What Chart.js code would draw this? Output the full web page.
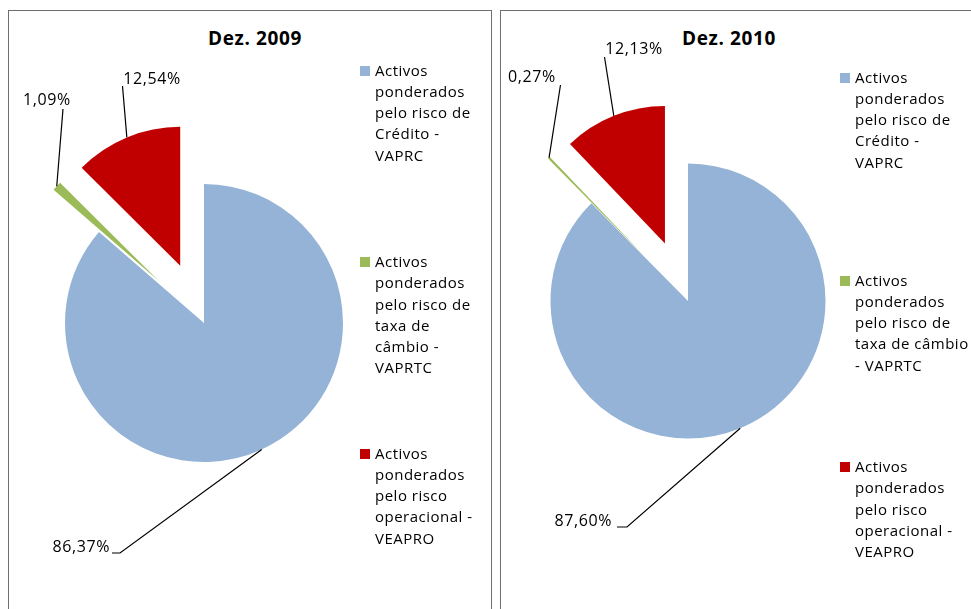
<!DOCTYPE html>
<html>
<head>
<meta charset="utf-8">
<script src="https://cdn.jsdelivr.net/npm/chart.js@4.4.1/dist/chart.umd.min.js"></script>
<style>
  html, body { margin:0; padding:0; background:#fff; width:971px; height:609px; overflow:hidden; }
  body { position:relative; font-family:"Open Sans", sans-serif; color:#000; }
  .panel { position:absolute; top:10px; height:700px; border:1px solid #6e6e6e; box-sizing:border-box; }
  .title { position:absolute; font-weight:bold; font-size:19px; letter-spacing:0.6px; white-space:nowrap; transform:translate(-50%,-50%); }
  canvas { position:absolute; }
  .leg-item { position:absolute; font-size:15px; line-height:21.3px; letter-spacing:0.5px; }
  .leg-box { position:absolute; width:10px; height:10px; }
</style>
</head>
<body>
<div class="panel" style="left:8px; width:484px;"></div>
<div class="panel" style="left:500px; width:600px;"></div>
<div class="title" style="left:255px; top:38px;">Dez. 2009</div>
<div class="title" style="left:729px; top:38px;">Dez. 2010</div>
<canvas id="pie2009" width="384" height="622" style="left:12px; top:12px;"></canvas>
<canvas id="pie2010" width="368" height="574" style="left:504px; top:14px;"></canvas>
<div id="legend2009"></div>
<div id="legend2010"></div>
<script>
const categories = [
    'Activos ponderados pelo risco de Crédito - VAPRC',
    'Activos ponderados pelo risco de taxa de câmbio - VAPRTC',
    'Activos ponderados pelo risco operacional - VEAPRO'
];
const values2009 = [86.37, 1.09, 12.54];
const values2010 = [87.60, 0.27, 12.13];
const sliceColors = ['#95B3D7', '#9BBB59', '#C00000'];

// how far each slice is pulled out of the pie (px)
const explodeDist = [0, 62, 62];

const fmtPct = v => v.toFixed(2).replace('.', ',') + '%';

// draws the arcs pulled out along their bisector, like Excel's exploded pie
const explodePlugin = {
    id: 'explode',
    beforeDatasetDraw(chart, args, opts) {
        const ctx = chart.ctx, dist = opts.distance || [];
        args.meta.data.forEach((arc, i) => {
            const mid = (arc.startAngle + arc.endAngle) / 2, d = dist[i] || 0;
            ctx.save();
            ctx.translate(Math.cos(mid) * d, Math.sin(mid) * d);
            arc.draw(ctx);
            ctx.restore();
        });
        return false;
    }
};

// percentage labels with leader lines to the middle of each slice's outer edge
const sliceLabels = {
    id: 'sliceLabels',
    afterDatasetsDraw(chart, args, opts) {
        const ctx = chart.ctx, meta = chart.getDatasetMeta(0);
        const vals = chart.data.datasets[0].data, dist = opts.distance || [];
        ctx.save();
        ctx.font = '16px "Open Sans"';
        if ('letterSpacing' in ctx) ctx.letterSpacing = '0.6px';
        ctx.textBaseline = 'middle';
        ctx.fillStyle = '#000';
        ctx.strokeStyle = '#000';
        ctx.lineWidth = 1.2;
        meta.data.forEach((arc, i) => {
            const p = opts.pos[i]; if (!p) return;
            const mid = (arc.startAngle + arc.endAngle) / 2, d = (dist[i] || 0) + arc.outerRadius;
            const ex = arc.x + Math.cos(mid) * d, ey = arc.y + Math.sin(mid) * d;
            ctx.beginPath();
            ctx.moveTo(arc.x + p.line[0], arc.y + p.line[1]);
            if (p.elbow) ctx.lineTo(arc.x + p.elbow[0], arc.y + p.elbow[1]);
            ctx.lineTo(ex, ey);
            ctx.stroke();
            ctx.textAlign = p.align;
            ctx.fillText(fmtPct(vals[i]), arc.x + p.text[0], arc.y + p.text[1]);
        });
        ctx.restore();
    }
};

function makePie(id, values, radius, labelPos) {
    return new Chart(document.getElementById(id), {
        type: 'pie',
        data: { labels: categories,
                datasets: [{ data: values, backgroundColor: sliceColors, borderWidth: 0 }] },
        options: {
            responsive: false, animation: false, events: [], radius: radius,
            layout: { padding: 0 },
            plugins: { legend: { display: false }, tooltip: { enabled: false },
                explode: { distance: explodeDist },
                sliceLabels: { distance: explodeDist, pos: labelPos } }
        },
        plugins: [explodePlugin, sliceLabels]
    });
}

makePie('pie2009', values2009, 139, [
    { text: [-94, 224], align: 'right', line: [-92, 230], elbow: [-84, 230] },
    { text: [-157, -223], align: 'center', line: [-141, -214] },
    { text: [-52, -244], align: 'center', line: [-81.5, -237] }
]);
makePie('pie2010', values2010, 137.5, [
    { text: [-76, 220], align: 'right', line: [-71, 226], elbow: [-61, 226] },
    { text: [-156, -224], align: 'center', line: [-127.5, -216] },
    { text: [-54, -252], align: 'center', line: [-83.5, -244] }
]);

function buildLegend(id, left, width, tops) {
    const el = document.getElementById(id);
    categories.forEach((c, i) => {
        const box = document.createElement('div'); box.className = 'leg-box';
        box.style.background = sliceColors[i];
        box.style.left = (left - 15) + 'px'; box.style.top = (tops[i] + 6) + 'px';
        const t = document.createElement('div'); t.className = 'leg-item';
        t.style.left = left + 'px'; t.style.top = tops[i] + 'px'; t.style.width = width + 'px';
        t.textContent = c;
        el.appendChild(box); el.appendChild(t);
    });
}
buildLegend('legend2009', 375, 104, [59.5, 251, 442.5]);
buildLegend('legend2010', 855, 116, [66.5, 269.5, 456]);
</script>
</body>
</html>
